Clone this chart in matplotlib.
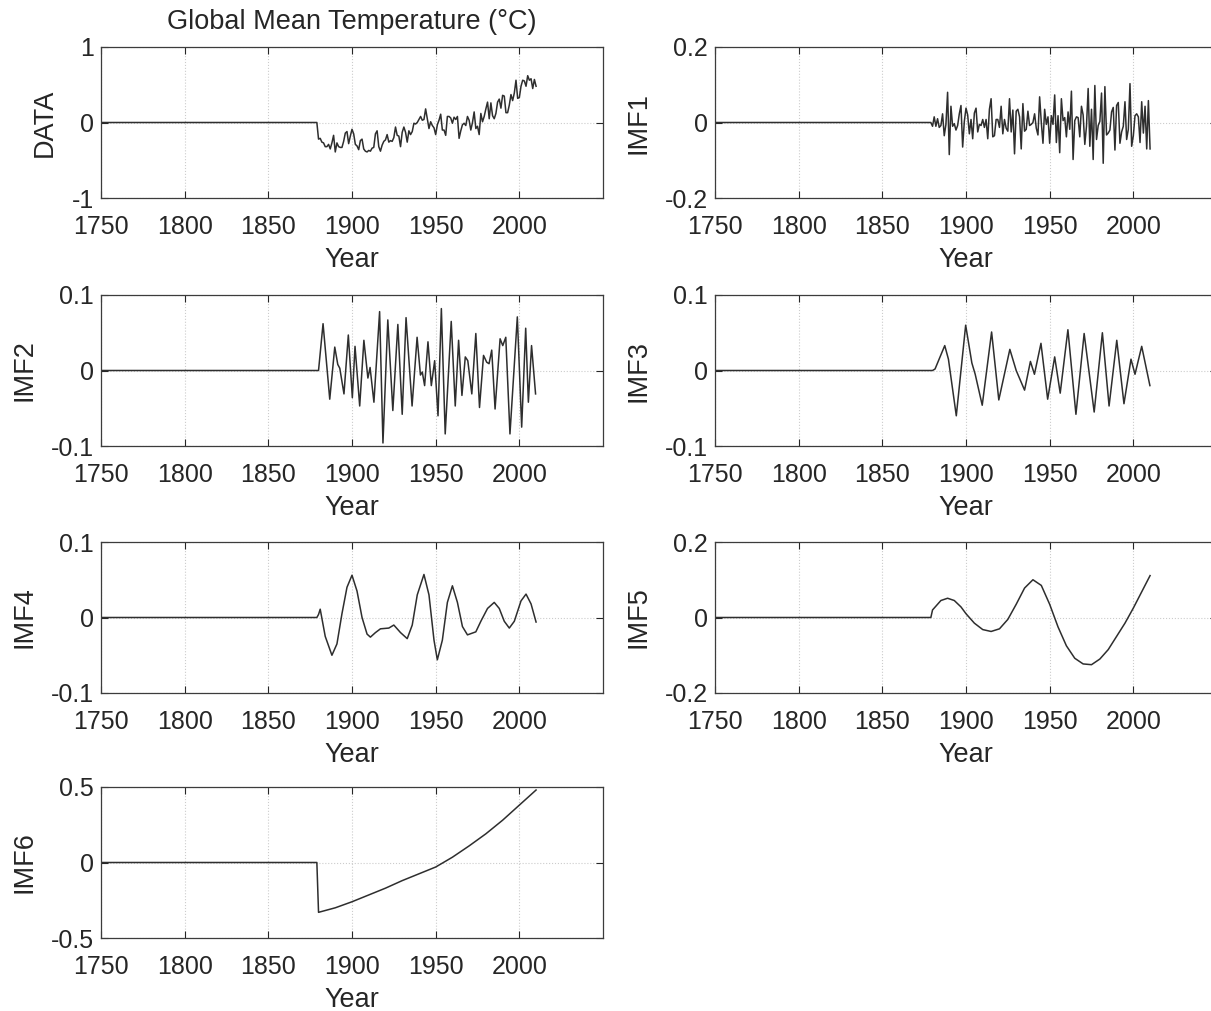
import matplotlib.pyplot as plt

plt.rcParams['font.family'] = ['Liberation Sans', 'DejaVu Sans']
plt.rcParams['axes.unicode_minus'] = False

# series are zero before the record starts
PAD_YEARS = [1750, 1879]
PAD_VALUES = [0.0, 0.0]

XTICKS = [1750, 1800, 1850, 1900, 1950, 2000]

data_years = list(range(1880, 2011))
data_values = [
    -0.22, -0.21, -0.26, -0.27, -0.32, -0.32, -0.29, -0.35, -0.27, -0.17,
    -0.39, -0.27, -0.32, -0.33, -0.33, -0.25, -0.14, -0.12, -0.28, -0.18,
    -0.09, -0.15, -0.29, -0.31, -0.36, -0.24, -0.22, -0.35, -0.38, -0.39,
    -0.37, -0.38, -0.34, -0.33, -0.15, -0.11, -0.32, -0.38, -0.30, -0.25,
    -0.23, -0.16, -0.26, -0.24, -0.25, -0.20, -0.06, -0.17, -0.18, -0.32,
    -0.13, -0.06, -0.13, -0.26, -0.11, -0.16, -0.12, -0.01, -0.02, 0.00,
    0.04, 0.08, 0.03, 0.04, 0.18, 0.05, -0.08, 0.01, -0.04, -0.07,
    -0.16, -0.03, 0.03, 0.11, -0.10, -0.10, -0.17, 0.08, 0.08, 0.06,
    -0.01, 0.07, 0.04, 0.08, -0.21, -0.11, -0.03, -0.01, -0.04, 0.08,
    0.03, -0.10, 0.00, 0.14, -0.08, -0.05, -0.16, 0.12, 0.01, 0.08,
    0.18, 0.27, 0.05, 0.26, 0.09, 0.05, 0.12, 0.27, 0.31, 0.19,
    0.36, 0.35, 0.13, 0.13, 0.23, 0.37, 0.29, 0.39, 0.56, 0.32,
    0.33, 0.48, 0.56, 0.55, 0.48, 0.62, 0.56, 0.58, 0.45, 0.57,
    0.48,
]

imf1_values = [
    -0.010, 0.015, -0.010, 0.010, -0.013, -0.008, 0.023, -0.035, -0.005, 0.080,
    -0.085, 0.043, -0.010, -0.003, -0.020, -0.008, 0.023, 0.045, -0.065, 0.003,
    0.038, 0.020, -0.030, 0.008, -0.043, 0.025, 0.038, -0.025, -0.005, -0.008,
    0.008, -0.013, 0.008, -0.043, 0.035, 0.063, -0.038, -0.035, 0.008, 0.008,
    -0.013, 0.043, -0.030, 0.008, -0.015, -0.023, 0.063, -0.025, 0.033, -0.083,
    0.030, 0.035, 0.015, -0.070, 0.050, -0.023, -0.018, 0.030, -0.008, -0.005,
    0.000, 0.023, -0.015, -0.033, 0.068, 0.000, -0.055, 0.035, -0.005, 0.015,
    -0.055, 0.018, -0.005, 0.073, -0.053, 0.018, -0.080, 0.063, 0.005, 0.013,
    -0.038, 0.028, -0.018, 0.083, -0.098, 0.005, 0.015, 0.013, -0.038, 0.043,
    0.020, -0.058, -0.010, 0.090, -0.063, 0.035, -0.098, 0.098, -0.045, -0.008,
    0.003, 0.078, -0.108, 0.095, -0.033, -0.028, -0.020, 0.028, 0.040, -0.073,
    0.045, 0.053, -0.055, -0.025, -0.010, 0.055, -0.045, -0.018, 0.103, -0.063,
    -0.035, 0.018, 0.023, 0.015, -0.053, 0.055, -0.028, 0.043, -0.070, 0.058,
    -0.070,
]

imf2_years = [
    1880.0, 1882.7, 1886.7, 1889.7, 1891.5, 1892.7, 1895.2, 1897.8, 1900.2, 1901.8,
    1904.6, 1907.1, 1909.5, 1910.8, 1913.1, 1916.5, 1918.5, 1921.4, 1924.4, 1927.4,
    1930.0, 1932.3, 1935.9, 1938.9, 1940.9, 1942.0, 1943.4, 1945.4, 1947.4, 1949.4,
    1951.4, 1953.4, 1955.7, 1959.3, 1961.7, 1963.7, 1965.7, 1967.7, 1969.2, 1971.6,
    1974.0, 1976.2, 1978.6, 1980.5, 1981.9, 1983.5, 1985.5, 1988.5, 1990.1, 1991.9,
    1994.4, 1998.8, 2001.4, 2003.8, 2005.4, 2007.3, 2009.7,
]
imf2_values = [
    0.000, 0.062, -0.038, 0.031, 0.008, 0.003, -0.031, 0.047, -0.036, 0.032,
    -0.047, 0.040, -0.010, 0.004, -0.042, 0.078, -0.096, 0.067, -0.053, 0.061,
    -0.058, 0.070, -0.047, 0.044, -0.006, -0.002, -0.020, 0.038, -0.020, 0.013,
    -0.060, 0.082, -0.084, 0.065, -0.047, 0.040, -0.033, 0.018, 0.013, -0.031,
    0.049, -0.049, 0.020, 0.011, 0.009, 0.027, -0.051, 0.042, 0.033, 0.044,
    -0.084, 0.071, -0.075, 0.056, -0.042, 0.033, -0.031,
]

imf3_years = [
    1880.0, 1881.5, 1883.0, 1887.3, 1889.5, 1894.2, 1899.8, 1903.5, 1905.5, 1909.7,
    1915.3, 1919.6, 1926.2, 1930.0, 1935.0, 1938.5, 1940.9, 1944.8, 1948.8, 1953.0,
    1956.3, 1960.9, 1965.7, 1970.6, 1976.6, 1981.5, 1985.5, 1990.1, 1994.4, 1998.6,
    2001.0, 2005.0, 2009.9,
]
imf3_values = [
    0.000, 0.002, 0.010, 0.033, 0.015, -0.060, 0.060, 0.010, -0.005, -0.046,
    0.051, -0.039, 0.028, 0.000, -0.026, 0.012, -0.005, 0.036, -0.038, 0.018,
    -0.030, 0.054, -0.058, 0.049, -0.055, 0.050, -0.047, 0.040, -0.044, 0.015,
    -0.005, 0.032, -0.020,
]

imf4_years = [
    1880, 1881, 1884, 1888, 1891, 1894, 1897, 1900, 1903, 1906,
    1909, 1911, 1914, 1917, 1922, 1925, 1929, 1933, 1936, 1939,
    1943, 1946, 1949, 1951, 1954, 1957, 1960, 1963, 1966, 1969,
    1974, 1977, 1981, 1985, 1988, 1991, 1994, 1997, 2001, 2004,
    2007, 2010,
]
imf4_values = [
    0.004, 0.011, -0.025, -0.050, -0.035, 0.005, 0.040, 0.056, 0.035, 0.000,
    -0.022, -0.026, -0.020, -0.015, -0.014, -0.010, -0.020, -0.028, -0.010, 0.030,
    0.057, 0.030, -0.030, -0.056, -0.030, 0.020, 0.042, 0.020, -0.012, -0.023,
    -0.019, -0.005, 0.012, 0.020, 0.012, -0.005, -0.014, -0.005, 0.022, 0.031,
    0.018, -0.006,
]

imf5_years = [
    1880, 1882, 1885, 1889, 1893, 1897, 1900, 1905, 1910, 1915,
    1920, 1925, 1930, 1935, 1940, 1945, 1950, 1955, 1960, 1965,
    1970, 1975, 1980, 1985, 1990, 1995, 2000, 2005, 2010,
]
imf5_values = [
    0.020, 0.030, 0.045, 0.051, 0.045, 0.028, 0.010, -0.015, -0.032, -0.037,
    -0.030, -0.005, 0.035, 0.078, 0.100, 0.085, 0.035, -0.025, -0.075, -0.108,
    -0.123, -0.125, -0.110, -0.085, -0.050, -0.015, 0.025, 0.068, 0.111,
]

imf6_years = [1880, 1890, 1900, 1910, 1920, 1930, 1940, 1950, 1960, 1970, 1980, 1990, 2000, 2010]
imf6_values = [-0.33, -0.30, -0.26, -0.215, -0.17, -0.12, -0.075, -0.03, 0.035, 0.11, 0.19, 0.28, 0.38, 0.48]

labels = ['DATA', 'IMF1', 'IMF2', 'IMF3', 'IMF4', 'IMF5', 'IMF6']
limits = [1, 0.2, 0.1, 0.1, 0.1, 0.2, 0.5]
limit_labels = ['1', '0.2', '0.1', '0.1', '0.1', '0.2', '0.5']
series = [
    (data_years, data_values),
    (data_years, imf1_values),
    (imf2_years, imf2_values),
    (imf3_years, imf3_values),
    (imf4_years, imf4_values),
    (imf5_years, imf5_values),
    (imf6_years, imf6_values),
]

# panel geometry in pixels
FIG_W, FIG_H = 1211, 1011
COL_LEFT = [101, 715]
ROW_TOP = [47, 295, 542, 787]
AX_W, AX_H = 502, 151

TEXT = '#262626'
FS = 18
LABEL_FS = 19.5

fig = plt.figure(figsize=(FIG_W / 100, FIG_H / 100), dpi=100)

for i, label in enumerate(labels):
    row, col = divmod(i, 2)
    left = COL_LEFT[col]
    top = ROW_TOP[row]
    ax = fig.add_axes([left / FIG_W, 1 - (top + AX_H) / FIG_H, AX_W / FIG_W, AX_H / FIG_H])

    years, values = series[i]
    ax.plot(PAD_YEARS + list(years), PAD_VALUES + list(values), color='#2e2e2e', lw=1.1)

    lim = limits[i]
    ax.set_xlim(1750, 2050)
    ax.set_ylim(-lim, lim)
    ax.set_xticks(XTICKS)
    ax.set_xticklabels([str(t) for t in XTICKS])
    ax.set_yticks([-lim, 0, lim])
    ax.set_yticklabels(['-' + limit_labels[i], '0', limit_labels[i]])

    ax.grid(True, color='#cccccc', linestyle=':', lw=0.8)
    ax.tick_params(direction='in', top=True, right=True, length=5, width=0.8,
                   colors=TEXT, labelsize=FS)
    ax.tick_params(axis='x', pad=12)
    ax.tick_params(axis='y', pad=5)
    for sp in ax.spines.values():
        sp.set_color('#3c3c3c')
        sp.set_linewidth(0.9)

    ax.set_xlabel('Year', fontsize=LABEL_FS, color=TEXT, labelpad=6)
    ax.set_ylabel(label, fontsize=LABEL_FS, color=TEXT, labelpad=10)

    if i == 0:
        ax.set_title('Global Mean Temperature (°C)', fontsize=LABEL_FS, color=TEXT, pad=13)

fig.savefig('out.png', dpi=100)
